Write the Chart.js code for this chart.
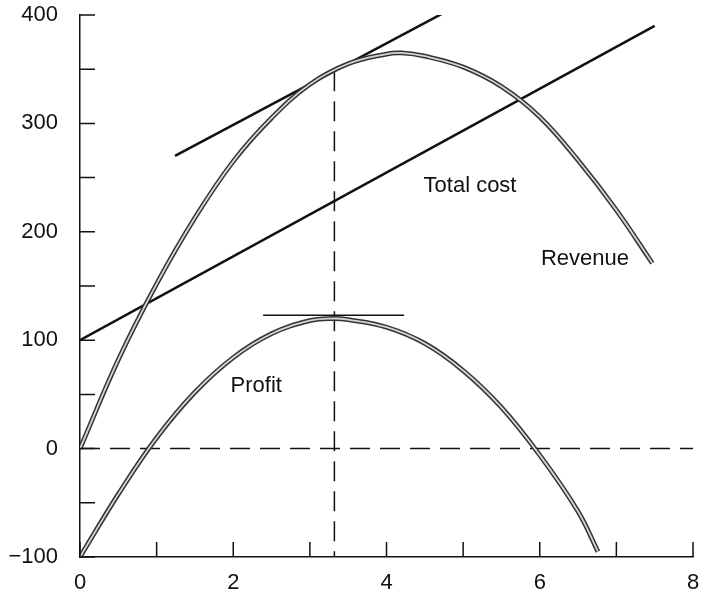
<!DOCTYPE html>
<html>
<head>
<meta charset="utf-8">
<script src="https://cdn.jsdelivr.net/npm/chart.js@4.4.1/dist/chart.umd.min.js"></script>
<style>
  html, body { margin: 0; padding: 0; background: #fff; }
  #wrap { width: 713px; height: 595px; }
</style>
</head>
<body>
<div id="wrap"><canvas id="chart"></canvas></div>
<script>
// values (x = output, y = money)
var revenueX = [0, 0.5, 1, 1.5, 2, 2.5, 3, 3.5, 4, 4.2, 4.5, 5, 5.5, 6, 6.5, 7, 7.47];
var revenueY = [0, 82, 152, 213, 265, 305, 336, 355, 364, 365, 362, 352, 334, 306, 266, 220, 171];

var profitX = [0, 0.5, 1, 1.5, 2, 2.5, 3, 3.3, 3.5, 4, 4.5, 5, 5.5, 6, 6.5, 6.76];
var profitY = [-100, -42, 10, 52, 84, 106, 118, 120, 119, 112, 97, 72, 38, -6, -58, -95];

var costX = [0, 7.5];
var costY = [100, 390];

var tangentX = [1.24, 4.96];
var tangentY = [270, 410];

var peakX = [2.39, 4.23];
var peakY = [123, 123];

var dropX = [3.32, 3.32];
var dropY = [348, -100];

var zeroX = [0, 8];
var zeroY = [0, 0];

var labels = [
  { text: 'Total cost', x: 5.09, y: 242 },
  { text: 'Revenue', x: 6.59, y: 175 },
  { text: 'Profit', x: 2.3, y: 58 }
];

var FONT = '"Liberation Sans", Arial, sans-serif';

function pts(xs, ys) {
  return xs.map(function(x, i) { return { x: x, y: ys[i] }; });
}

function line(xs, ys, color, width, order, extra) {
  var ds = {
    data: pts(xs, ys),
    borderColor: color,
    borderWidth: width,
    pointRadius: 0,
    fill: false,
    tension: 0,
    order: order
  };
  for (var k in extra) ds[k] = extra[k];
  return ds;
}

// inward tick marks + text labels
var decorations = {
  id: 'decorations',
  afterDatasetsDraw: function(chart) {
    var ctx = chart.ctx;
    var xs = chart.scales.x, ys = chart.scales.y;
    var area = chart.chartArea;
    ctx.save();
    ctx.strokeStyle = '#111';
    ctx.lineWidth = 1.5;
    ctx.beginPath();
    ys.ticks.forEach(function(t) {
      var py = ys.getPixelForValue(t.value);
      ctx.moveTo(area.left, py);
      ctx.lineTo(area.left + 15, py);
    });
    xs.ticks.forEach(function(t) {
      var px = xs.getPixelForValue(t.value);
      ctx.moveTo(px, area.bottom);
      ctx.lineTo(px, area.bottom - 15);
    });
    ctx.stroke();

    ctx.fillStyle = '#111';
    ctx.font = '22px ' + FONT;
    ctx.textAlign = 'center';
    ctx.textBaseline = 'middle';
    labels.forEach(function(l) {
      ctx.fillText(l.text, xs.getPixelForValue(l.x), ys.getPixelForValue(l.y));
    });
    ctx.restore();
  }
};

var smooth = { tension: 0.4 };

var ctx = document.getElementById('chart').getContext('2d');
new Chart(ctx, {
  type: 'line',
  data: {
    datasets: [
      line(revenueX, revenueY, '#d4d4d4', 1.8, 1, smooth),
      line(revenueX, revenueY, '#333', 4.8, 2, smooth),
      line(profitX, profitY, '#d4d4d4', 1.8, 1, smooth),
      line(profitX, profitY, '#333', 4.8, 2, smooth),
      line(costX, costY, '#111', 2.5, 3),
      line(tangentX, tangentY, '#111', 2.5, 3),
      line(peakX, peakY, '#111', 1.6, 3),
      line(dropX, dropY, '#111', 1.5, 3, { borderDash: [20, 10] }),
      line(zeroX, zeroY, '#111', 1.5, 3, { borderDash: [20, 10] })
    ]
  },
  options: {
    responsive: true,
    maintainAspectRatio: false,
    animation: false,
    layout: { padding: { top: 0, right: 20, left: 0, bottom: 0 } },
    plugins: {
      legend: { display: false },
      tooltip: { enabled: false }
    },
    scales: {
      x: {
        type: 'linear',
        min: 0,
        max: 8,
        grid: { display: false },
        border: { display: true, color: '#111', width: 1.5 },
        ticks: {
          stepSize: 1,
          padding: 5,
          color: '#111',
          font: { family: FONT, size: 22 },
          maxRotation: 0,
          autoSkip: false,
          callback: function(v) { return v % 2 === 0 ? String(v) : ''; }
        },
        afterFit: function(s) { s.height = 38; }
      },
      y: {
        type: 'linear',
        min: -100,
        max: 400,
        grid: { display: false },
        border: { display: true, color: '#111', width: 1.5 },
        ticks: {
          stepSize: 50,
          padding: 14,
          color: '#111',
          font: { family: FONT, size: 22 },
          autoSkip: false,
          callback: function(v) {
            if (v % 100 !== 0) return '';
            return v < 0 ? '\u2212' + Math.abs(v) : String(v);
          }
        },
        afterFit: function(s) { s.width = 80; s.paddingTop = 15; s.paddingBottom = 0; }
      }
    }
  },
  plugins: [decorations]
});
</script>
</body>
</html>
